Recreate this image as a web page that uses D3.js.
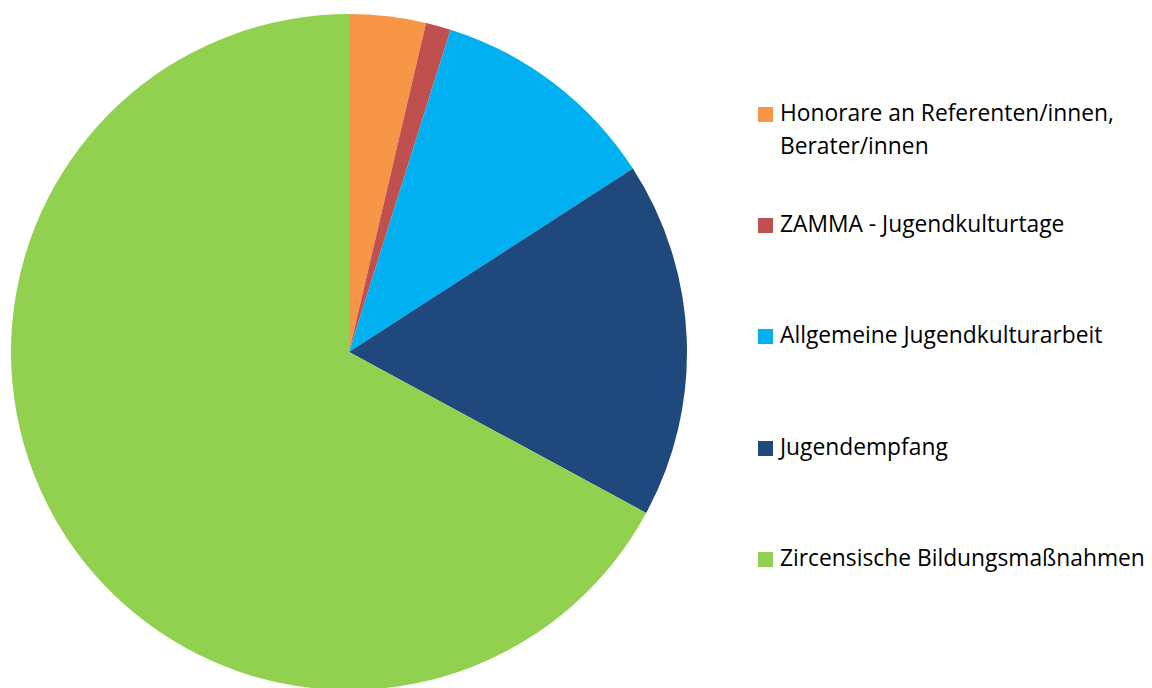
<!DOCTYPE html>
<html><head><meta charset="utf-8">
<script src="https://cdn.jsdelivr.net/npm/d3@7"></script>
<style>html,body{margin:0;padding:0;background:#fff;overflow:hidden}</style>
</head><body>
<svg id="c" width="1152" height="688"></svg>
<script>
const categories = ["Honorare an Referenten/innen, Berater/innen","ZAMMA - Jugendkulturtage","Allgemeine Jugendkulturarbeit","Jugendempfang","Zircensische Bildungsmaßnahmen"];
const legendLines = [["Honorare an Referenten/innen,","Berater/innen"],["ZAMMA - Jugendkulturtage"],["Allgemeine Jugendkulturarbeit"],["Jugendempfang"],["Zircensische Bildungsmaßnahmen"]];
const values = [3.66, 1.20, 11.01, 17.03, 67.10];
const colors = ["#F79646","#C0504D","#00B0F0","#1F497D","#92D050"];

const svg = d3.select("#c");
const cx = 349, cy = 352, r = 338;
const pie = d3.pie().sort(null).value(d => d)(values);
const arc = d3.arc().innerRadius(0).outerRadius(r);
svg.append("g").attr("transform",`translate(${cx},${cy})`)
  .selectAll("path").data(pie).join("path")
  .attr("d", arc).attr("fill",(d,i)=>colors[i]);

const color = d3.scaleOrdinal().domain(categories).range(colors);
const baselines = [121, 232, 343, 455, 566];
const lg = svg.append("g").attr("font-family","'Open Sans', Lato, sans-serif").attr("font-size", 22.8).attr("fill","#000");
categories.forEach((c,i)=>{
  const g = lg.append("g");
  g.append("rect").attr("x",758).attr("y",baselines[i]-14).attr("width",15).attr("height",15).attr("fill",color(c));
  legendLines[i].forEach((t,j)=>{
    g.append("text").attr("x",780).attr("y",baselines[i]+j*33).text(t);
  });
});
</script>
</body></html>
